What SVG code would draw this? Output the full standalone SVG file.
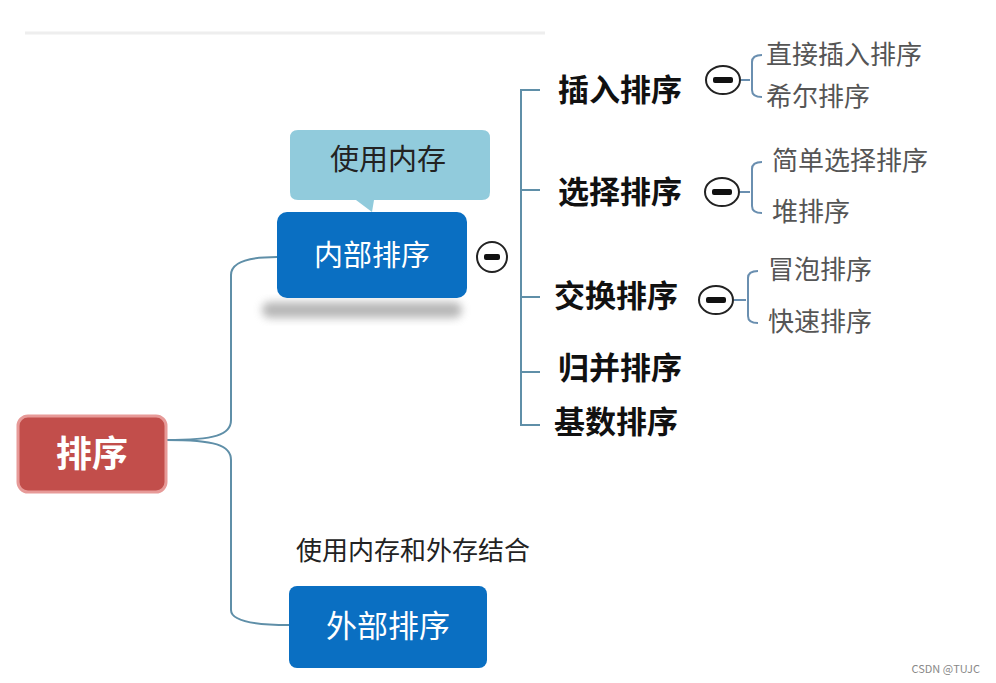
<svg xmlns="http://www.w3.org/2000/svg" width="996" height="683" viewBox="0 0 996 683">
<defs>
<filter id="blur" x="-20%" y="-50%" width="140%" height="200%"><feGaussianBlur stdDeviation="4"/></filter>
<style>
text{font-family:"Noto Sans CJK SC","Noto Sans",sans-serif}
.cn{fill:none;stroke:#5f8fa8;stroke-width:2}
.br{fill:none;stroke:#6a8fb0;stroke-width:2}
.l1{font-size:31px;font-weight:bold;fill:#111}
.l2{font-size:26px;fill:#555}
.min{fill:#fff;stroke:#222;stroke-width:2}
</style>
</defs>
<rect width="996" height="683" fill="#fff"/>
<line x1="25" y1="33" x2="545" y2="33" stroke="#eee" stroke-width="3"/>
<g id="connectors">
<path class="cn" d="M166 440 C 215 440 231 435 231 420 L 231 275 C 231 262 250 257 277 257"/>
<path class="cn" d="M166 440 C 215 440 231 445 231 460 L 231 610 C 231 620 250 625 289 625"/>
<path class="cn" d="M540 90 H521 V425 H540 M521 190 H540 M521 297 H540 M521 372 H540"/>
<path class="br" d="M741 80 H750 M762 55 Q752 55 752 62 V90 Q752 97 762 97"/>
<path class="br" d="M740 192 H750 M762 162 Q752 162 752 169 V206 Q752 213 762 213"/>
<path class="br" d="M734 300 H746 M758 271 Q748 271 748 278 V316 Q748 323 758 323"/>
</g>
<g id="root">
<rect x="18" y="416" width="148" height="76" rx="10" fill="#c24e4b" stroke="#e79a98" stroke-width="3"/>
<text x="92" y="467" font-size="36" font-weight="bold" fill="#fff" text-anchor="middle">排序</text>
</g>
<g id="callout">
<path d="M298 130 H482 Q490 130 490 138 V192 Q490 200 482 200 H374 L372 212 L356 200 H298 Q290 200 290 192 V138 Q290 130 298 130 Z" fill="#91cbdc"/>
<text x="388" y="170" font-size="29" fill="#222" text-anchor="middle">使用内存</text>
</g>
<g id="internal">
<rect x="262" y="302" width="200" height="16" rx="8" fill="#888" opacity="0.6" filter="url(#blur)"/>
<rect x="277" y="212" width="190" height="86" rx="10" fill="#0a6fc2"/>
<text x="372" y="266" font-size="29" fill="#fff" text-anchor="middle">内部排序</text>
<circle class="min" cx="492" cy="257" r="15"/><rect x="484" y="254" width="16" height="6" rx="2" fill="#111"/>
</g>
<g id="n-insert"><text class="l1" x="558" y="101">插入排序</text>
<ellipse class="min" cx="723" cy="80" rx="17" ry="14"/><rect x="713" y="77" width="20" height="6" rx="2" fill="#111"/></g>
<g id="n-select"><text class="l1" x="558" y="203">选择排序</text>
<ellipse class="min" cx="722" cy="192" rx="17" ry="14"/><rect x="712" y="189" width="20" height="6" rx="2" fill="#111"/></g>
<g id="n-swap"><text class="l1" x="554" y="307">交换排序</text>
<ellipse class="min" cx="716" cy="300" rx="17" ry="14"/><rect x="706" y="297" width="20" height="6" rx="2" fill="#111"/></g>
<g id="n-merge"><text class="l1" x="558" y="379">归并排序</text></g>
<g id="n-radix"><text class="l1" x="554" y="433">基数排序</text></g>
<g id="leaf1"><text class="l2" x="766" y="64">直接插入排序</text></g>
<g id="leaf2"><text class="l2" x="766" y="106">希尔排序</text></g>
<g id="leaf3"><text class="l2" x="772" y="170">简单选择排序</text></g>
<g id="leaf4"><text class="l2" x="772" y="221">堆排序</text></g>
<g id="leaf5"><text class="l2" x="768" y="279">冒泡排序</text></g>
<g id="leaf6"><text class="l2" x="768" y="331">快速排序</text></g>
<g id="external">
<text x="296" y="560" font-size="26" fill="#222">使用内存和外存结合</text>
<rect x="289" y="586" width="198" height="82" rx="8" fill="#0a6fc2"/>
<text x="388" y="637" font-size="31" fill="#fff" text-anchor="middle">外部排序</text>
</g>
<text x="980" y="673" font-size="11" fill="#888" text-anchor="end">CSDN @TUJC</text>
</svg>
